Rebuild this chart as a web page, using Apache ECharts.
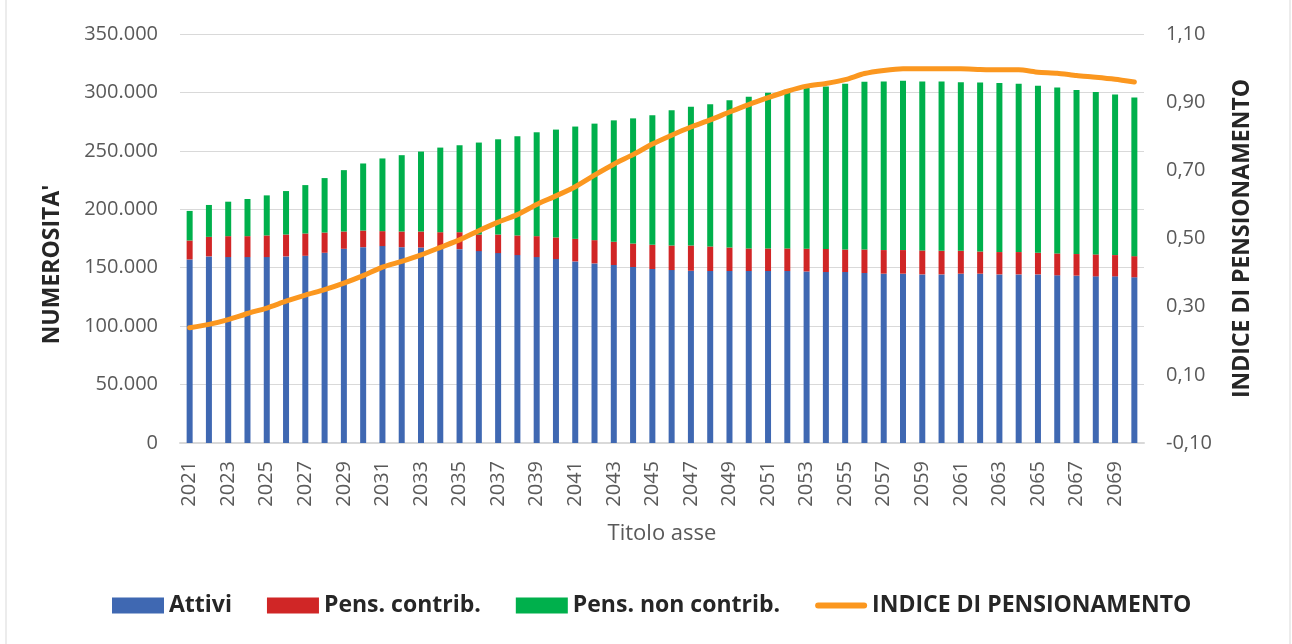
<!DOCTYPE html>
<html>
<head>
<meta charset="utf-8">
<script src="https://cdn.jsdelivr.net/npm/echarts@6/dist/echarts.min.js"></script>
<style>
  html, body { margin: 0; padding: 0; background: #fff; }
  #chart { width: 1292px; height: 644px; }
</style>
</head>
<body>
<div id="chart"></div>
<script>
var anni = [];
for (var y = 2021; y <= 2070; y++) anni.push(String(y));

// valori
var attivi = [
  157100, 159700, 159100, 159100, 159100, 159700, 160200, 162800, 166200, 167600,
  168500, 167600, 167300, 166200, 165900, 164200, 162500, 160800, 159100, 157400,
  155400, 153700, 152300, 150600, 148900, 148000, 147400, 147200, 147200, 147200,
  147200, 147200, 146800, 146300, 146300, 145500, 144900, 144900, 144300, 144300,
  144900, 144900, 144300, 144300, 144300, 143500, 143200, 142600, 142600, 141800
];
var pensContrib = [
  16200, 16700, 17900, 17900, 18500, 18700, 19100, 17300, 14800, 14200,
  12800, 13400, 13700, 14200, 14500, 14200, 15900, 16800, 17900, 18500,
  19300, 19900, 19900, 20100, 20700, 21000, 21600, 21000, 20100, 19300,
  19300, 19300, 19500, 19700, 19300, 20100, 20200, 20200, 20500, 20200,
  19600, 19000, 19100, 19100, 18500, 18700, 18500, 18800, 18200, 18100
];
var pensNonContrib = [
  25300, 27300, 29500, 31800, 34300, 37200, 41400, 46600, 52500, 57400,
  62200, 65300, 68400, 72400, 74400, 78700, 81500, 84900, 88900, 92300,
  96100, 99700, 103900, 107100, 110800, 115700, 118800, 121600, 125900, 129800,
  133200, 135800, 137500, 139100, 141800, 143500, 144300, 144900, 144600, 144900,
  144300, 144600, 144600, 144000, 142900, 142100, 140300, 138900, 137500, 135800
];
var indice = [
  0.238, 0.248, 0.262, 0.280, 0.296, 0.316, 0.334, 0.350, 0.369, 0.391,
  0.416, 0.433, 0.452, 0.474, 0.496, 0.523, 0.548, 0.570, 0.600, 0.625,
  0.652, 0.686, 0.718, 0.746, 0.777, 0.803, 0.827, 0.848, 0.871, 0.893,
  0.913, 0.932, 0.947, 0.955, 0.966, 0.984, 0.993, 0.998, 0.998, 0.998,
  0.998, 0.996, 0.995, 0.995, 0.988, 0.985, 0.978, 0.973, 0.967, 0.959
];

var FONT = "'Open Sans', sans-serif";
var GRIGIO = '#595959';
var NERO = '#262626';

function migliaia(v) {
  return String(v).replace(/\B(?=(\d{3})+(?!\d))/g, '.');
}

var chart = echarts.init(document.getElementById('chart'), null, { renderer: 'canvas' });

chart.setOption({
  animation: false,
  backgroundColor: '#fff',
  textStyle: { fontFamily: FONT },
  graphic: [{
    type: 'rect',
    shape: { x: 6, y: -2, width: 1284, height: 650 },
    style: { fill: 'none', stroke: '#D9D9D9', lineWidth: 1 },
    silent: true
  }],
  grid: { left: 180, right: 148, top: 34, bottom: 201 },
  legend: {
    left: 107,
    top: 589,
    itemWidth: 52,
    itemHeight: 16,
    itemGap: 35,
    textStyle: { fontFamily: FONT, fontSize: 23, fontWeight: 'bold', color: NERO },
    data: [
      { name: 'Attivi', icon: 'rect' },
      { name: 'Pens. contrib.', icon: 'rect' },
      { name: 'Pens. non contrib.', icon: 'rect' },
      {
        name: 'INDICE DI PENSIONAMENTO',
        icon: 'path://M3,0 L49,0 A3,3 0 0 1 49,6 L3,6 A3,3 0 0 1 3,0 Z',
        itemStyle: { color: '#FB971F' },
        lineStyle: { width: 0 }
      }
    ]
  },
  xAxis: {
    type: 'category',
    data: anni,
    name: 'Titolo asse',
    nameLocation: 'middle',
    nameGap: 80,
    nameTextStyle: { fontFamily: FONT, fontSize: 22, color: GRIGIO },
    axisTick: { show: false },
    axisLine: { lineStyle: { color: '#D9D9D9', width: 2 } },
    axisLabel: {
      interval: 1,
      rotate: 90,
      margin: 18,
      fontFamily: FONT,
      fontSize: 20,
      color: GRIGIO
    }
  },
  yAxis: [{
    type: 'value',
    min: 0,
    max: 350000,
    interval: 50000,
    name: "NUMEROSITA'",
    nameLocation: 'middle',
    nameRotate: 90,
    nameGap: 116,
    nameTextStyle: { fontFamily: FONT, fontSize: 23, fontWeight: 'bold', color: NERO, padding: [0, 52, 0, 0] },
    axisLine: { show: false },
    axisTick: { show: false },
    splitLine: { lineStyle: { color: '#D9D9D9', width: 1 } },
    axisLabel: { margin: 22, fontFamily: FONT, fontSize: 20, color: GRIGIO, formatter: migliaia }
  }, {
    type: 'value',
    min: -0.1,
    max: 1.1,
    interval: 0.2,
    name: 'INDICE DI PENSIONAMENTO',
    nameLocation: 'middle',
    nameRotate: 90,
    nameGap: 87,
    nameTextStyle: { fontFamily: FONT, fontSize: 23, fontWeight: 'bold', color: NERO },
    axisLine: { show: false },
    axisTick: { show: false },
    splitLine: { show: false },
    axisLabel: {
      margin: 22, fontFamily: FONT, fontSize: 20, color: GRIGIO,
      formatter: function (v) { return v.toFixed(2).replace('.', ','); }
    }
  }],
  series: [{
    name: 'Attivi',
    type: 'bar',
    stack: 'tot',
    barWidth: 6,
    itemStyle: { color: '#3F68B2' },
    data: attivi
  }, {
    name: 'Pens. contrib.',
    type: 'bar',
    stack: 'tot',
    barWidth: 6,
    itemStyle: { color: '#D02626' },
    data: pensContrib
  }, {
    name: 'Pens. non contrib.',
    type: 'bar',
    stack: 'tot',
    barWidth: 6,
    itemStyle: { color: '#00B04C' },
    data: pensNonContrib
  }, {
    name: 'INDICE DI PENSIONAMENTO',
    type: 'line',
    yAxisIndex: 1,
    symbol: 'none',
    smooth: 0.2,
    lineStyle: { color: '#FB971F', width: 5, cap: 'round', join: 'round' },
    itemStyle: { color: '#FB971F' },
    z: 5,
    data: indice
  }]
});
</script>
</body>
</html>
